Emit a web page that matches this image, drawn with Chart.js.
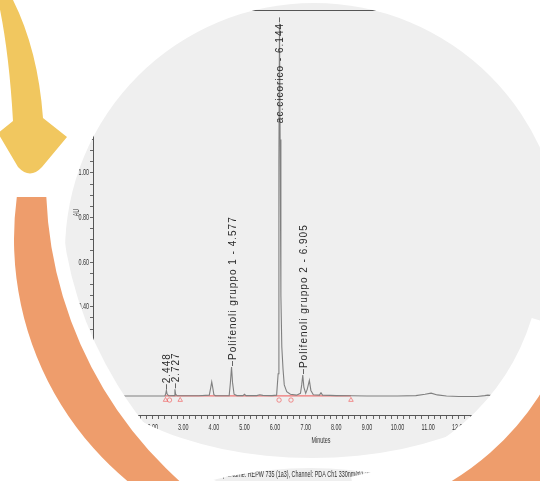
<!DOCTYPE html>
<html>
<head>
<meta charset="utf-8">
<script src="https://cdn.jsdelivr.net/npm/chart.js@4.4.1/dist/chart.umd.min.js"></script>
<style>
    html, body { margin: 0; padding: 0; background: #fff; }
    canvas { display: block; }
</style>
</head>
<body>
<canvas id="myChart" width="540" height="481"></canvas>
<script>
// #region data
const traceTimes = [
    0.05, 1.00, 2.00, 2.40, 2.43, 2.448, 2.47, 2.52, 2.70, 2.727, 2.75, 2.80,
    3.50, 3.85, 3.90, 3.93, 3.96, 4.00, 4.05, 4.50, 4.54, 4.577, 4.61, 4.66,
    4.75, 4.95, 5.00, 5.05, 5.40, 5.50, 5.60, 5.90, 6.05, 6.10, 6.125, 6.144,
    6.165, 6.19, 6.22, 6.26, 6.30, 6.38, 6.50, 6.70, 6.83, 6.87, 6.905, 6.94,
    7.00, 7.05, 7.12, 7.17, 7.25, 7.45, 7.50, 7.55, 7.80, 8.00, 8.50, 9.00,
    10.00, 10.60, 10.90, 11.10, 11.30, 11.60, 12.00, 12.60, 12.85, 12.95, 13.10, 14.50
];
const traceAU = [
    0.000, 0.000, 0.000, 0.000, 0.012, 0.026, 0.010, 0.001, 0.002, 0.030, 0.008, 0.001,
    0.001, 0.004, 0.040, 0.063, 0.040, 0.006, 0.001, 0.002, 0.060, 0.130, 0.060, 0.008,
    0.002, 0.002, 0.008, 0.002, 0.002, 0.006, 0.003, 0.002, 0.004, 0.100, 1.050, 1.670,
    1.150, 0.450, 0.220, 0.120, 0.050, 0.020, 0.008, 0.004, 0.012, 0.050, 0.094, 0.040,
    0.012, 0.030, 0.070, 0.025, 0.006, 0.004, 0.015, 0.004, 0.003, 0.002, 0.001, 0.000,
    0.000, 0.002, 0.008, 0.013, 0.005, 0.000, -0.002, -0.002, 0.002, 0.004, 0.002, 0.002
];

const baselineTimes = [2.40, 8.48];
const peakStartTimes = [2.42, 2.90, 8.48];
const peakEndTimes = [2.55, 6.13, 6.52];

const peakTimes = [2.448, 2.727, 4.577, 6.144, 6.905];
const peakNames = [
    '2.448',
    '2.727',
    'Polifenoli gruppo 1 - 4.577',
    'ac.cicorico - 6.144',
    'Polifenoli gruppo 2 - 6.905'
];

const xTitle = 'Minutes';
const yTitle = 'AU';
const caption = 'SampleName: REPW 735 (1a3), Channel: PDA Ch1 330nm@1.2nm, Injection: 1';
// #endregion data

const
    sans = "'Liberation Sans', Arial, sans-serif",
    traceColor = '#808080',
    redColor = 'rgba(240, 95, 95, 0.85)',
    markY = -0.018;

function isWhole(v, step) {
    const n = v / step;
    return Math.abs(n - Math.round(n)) < 1e-6;
}
function xLabel(v) {
    return isWhole(v, 1) ? v.toFixed(2) : '';
}
function yLabel(v) {
    return isWhole(v, 0.2) && v > -0.01 ? v.toFixed(2) : '';
}

// narrow text, like the instrument printout
function squeezed(c, text, x, y, align, angle) {
    c.save();
    c.translate(x, y);
    if (angle) c.rotate(angle);
    c.scale(0.6, 1);
    c.textAlign = align;
    c.textBaseline = 'middle';
    c.fillText(text, 0, 0);
    c.restore();
}

function greyShape(c) {
    c.beginPath();
    c.rect(0, 0, 540, 340);
    c.moveTo(312 + 235, 340);
    c.ellipse(312, 340, 235, 118, 0, 0, Math.PI * 2);
    c.moveTo(310 + 400, 868);
    c.arc(310, 868, 400, 0, Math.PI * 2);
}

const deco = {
    id: 'deco',
    beforeDraw(chart) {
        const c = chart.ctx;
        c.save();
        c.fillStyle = '#fff';
        c.fillRect(0, 0, chart.width, chart.height);
        c.beginPath();
        c.arc(314, 252, 249, 0, Math.PI * 2);
        c.clip();
        greyShape(c);
        c.clip();
        c.fillStyle = '#efefef';
        c.fillRect(0, 0, chart.width, chart.height);
    },
    afterDraw(chart) {
        const c = chart.ctx,
            xs = chart.scales.x,
            ys = chart.scales.y,
            area = chart.chartArea;

        // frame top
        c.strokeStyle = '#555';
        c.lineWidth = 1;
        c.beginPath();
        c.moveTo(area.left, area.top + 0.5);
        c.lineTo(area.right, area.top + 0.5);
        c.stroke();

        // tick labels and titles
        c.fillStyle = '#333';
        c.font = '9px ' + sans;
        xs.ticks.forEach(t => {
            const s = xLabel(t.value);
            if (s) squeezed(c, s, xs.getPixelForValue(t.value), 428, 'center');
        });
        ys.ticks.forEach(t => {
            const s = yLabel(t.value);
            if (s) squeezed(c, s, area.left - 4, ys.getPixelForValue(t.value), 'right');
        });
        squeezed(c, xTitle, xs.getPixelForValue(7.5), 441, 'center');
        squeezed(c, yTitle, area.left - 16, (area.top + area.bottom) / 2, 'center', -Math.PI / 2);
        squeezed(c, caption, 212, 475, 'left');

        // peak labels
        c.font = '10px ' + sans;
        c.letterSpacing = '1px';
        c.fillStyle = '#2a2a2a';
        c.strokeStyle = '#666';
        peakTimes.forEach((t, i) => {
            const idx = traceTimes.indexOf(t);
            const px = Math.round(xs.getPixelForValue(t));
            const py = ys.getPixelForValue(traceAU[idx]);
            const w = c.measureText(peakNames[i]).width;
            let y0 = py - 7;
            if (y0 - w < area.top + 13) y0 = area.top + 13 + w;
            c.beginPath();
            c.moveTo(px + 0.5, py - 1);
            c.lineTo(px + 0.5, py - 6);
            c.stroke();
            c.save();
            c.translate(px + 1.5, y0);
            c.rotate(-Math.PI / 2);
            c.textAlign = 'left';
            c.textBaseline = 'middle';
            c.fillText(peakNames[i], 0, 0);
            c.restore();
        });
        c.letterSpacing = '0px';

        c.restore();

        // white gaps along the arcs
        c.save();
        c.strokeStyle = '#fff';
        c.lineWidth = 28;
        c.beginPath();
        c.arc(450, 181, 404, 3.08, 2.1, true);
        c.stroke();
        c.lineWidth = 40;
        c.beginPath();
        c.arc(312, 250, 250, 0.3, 1.4);
        c.stroke();

        // orange arcs
        c.fillStyle = '#ee9d6c';
        c.beginPath();
        c.arc(450, 181, 404, 3.1020, 2.1, true);
        c.arc(329, 239, 315, 1.9, 3.2753, false);
        c.closePath();
        c.fill();
        c.beginPath();
        c.arc(312, 250, 270, 0.3, 1.4);
        c.arc(312, 250, 420, 1.4, 0.3, true);
        c.closePath();
        c.fill();

        // yellow arrow
        c.fillStyle = '#f1c75f';
        c.beginPath();
        c.moveTo(-2, 0);
        c.lineTo(13, 0);
        c.quadraticCurveTo(38, 50, 43, 118);
        c.lineTo(67, 137);
        c.lineTo(42, 167);
        c.quadraticCurveTo(30, 180, 18, 167);
        c.lineTo(-2, 133);
        c.lineTo(13, 121);
        c.quadraticCurveTo(9, 50, -2, 0);
        c.closePath();
        c.fill();
        c.restore();
    }
};

const ctx = document.getElementById('myChart').getContext('2d');

new Chart(ctx, {
    type: 'line',
    data: {
        datasets: [{
            data: traceTimes.map((t, i) => ({ x: t, y: traceAU[i] })),
            borderColor: traceColor,
            borderWidth: 1.1,
            pointRadius: 0,
            tension: 0
        }, {
            data: baselineTimes.map(t => ({ x: t, y: 0.001 })),
            borderColor: redColor,
            borderWidth: 1.2,
            pointRadius: 0
        }, {
            data: peakStartTimes.map(t => ({ x: t, y: markY })),
            showLine: false,
            pointStyle: 'triangle',
            pointRadius: 2.6,
            borderWidth: 0.8,
            borderColor: redColor,
            backgroundColor: 'rgba(0,0,0,0)'
        }, {
            data: peakEndTimes.map(t => ({ x: t, y: markY })),
            showLine: false,
            pointStyle: 'circle',
            pointRadius: 2.2,
            borderWidth: 0.8,
            borderColor: redColor,
            backgroundColor: 'rgba(0,0,0,0)'
        }]
    },
    options: {
        responsive: false,
        animation: false,
        events: [],
        layout: { padding: { top: 10, right: 0, bottom: 0, left: 0 } },
        plugins: {
            legend: { display: false },
            tooltip: { enabled: false }
        },
        scales: {
            x: {
                type: 'linear',
                min: 0.05,
                max: 14.5,
                afterFit: (scale) => { scale.height = 66; },
                border: { color: '#555' },
                grid: { drawOnChartArea: false, tickLength: 4, color: '#666' },
                ticks: { stepSize: 0.2, autoSkip: false, display: false, callback: xLabel }
            },
            y: {
                min: -0.085,
                max: 1.73,
                afterFit: (scale) => { scale.width = 93; },
                border: { color: '#555' },
                grid: { drawOnChartArea: false, tickLength: 3, color: '#666' },
                ticks: { stepSize: 0.05, autoSkip: false, display: false, callback: yLabel }
            }
        }
    },
    plugins: [deco]
});
</script>
</body>
</html>
